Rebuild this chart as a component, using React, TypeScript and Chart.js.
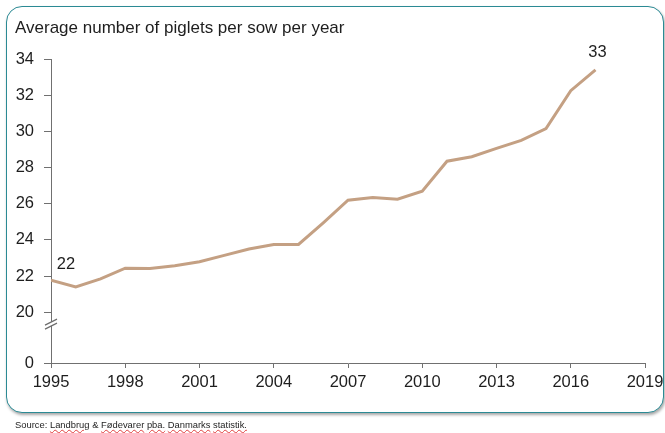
import React, { useEffect, useRef } from "react";
import { Chart, registerables } from "chart.js";

Chart.register(...registerables);

const years = [1995, 1996, 1997, 1998, 1999, 2000, 2001, 2002, 2003, 2004, 2005, 2006, 2007, 2008, 2009, 2010, 2011, 2012, 2013, 2014, 2015, 2016, 2017];
const piglets = [21.78, 21.4, 21.85, 22.44, 22.42, 22.58, 22.8, 23.15, 23.5, 23.75, 23.75, 24.95, 26.2, 26.35, 26.25, 26.7, 28.35, 28.6, 29.06, 29.5, 30.15, 32.25, 33.4];
const yTickValues = [20, 22, 24, 26, 28, 30, 32, 34];
const yBreakMin = 17.2;
const yBreakLabel = "0";
const xTickStep = 3;
const titleText = "Average number of piglets per sow per year";
const sourceWords = ["Landbrug", "&", "Fødevarer", "pba.", "Danmarks", "statistik."];

const FONT = '"Liberation Sans", Arial, sans-serif';

const labelPlugin = {
  id: "endLabels",
  afterDatasetsDraw(chart: any) {
    const meta = chart.getDatasetMeta(0);
    const ctx = chart.ctx;
    const pts = meta.data;
    const first = pts[0];
    const last = pts[pts.length - 1];
    ctx.save();
    ctx.font = "16.5px " + FONT;
    ctx.fillStyle = "#1e1e1e";
    ctx.textAlign = "center";
    ctx.textBaseline = "middle";
    ctx.fillText(String(Math.round(piglets[0])), first.x + 15, first.y - 16);
    ctx.fillText(String(Math.round(piglets[piglets.length - 1])), last.x + 2, last.y - 17);
    ctx.restore();
  },
};

const breakPlugin = {
  id: "axisBreak",
  afterDraw(chart: any) {
    const y = chart.scales.y;
    const ctx = chart.ctx;
    const x0 = chart.chartArea.left;
    const yc = y.getPixelForValue(19.35);
    ctx.save();
    ctx.fillStyle = "#ffffff";
    ctx.beginPath();
    ctx.moveTo(x0 - 6, yc + 1);
    ctx.lineTo(x0 + 6, yc - 5);
    ctx.lineTo(x0 + 6, yc - 1);
    ctx.lineTo(x0 - 6, yc + 5);
    ctx.closePath();
    ctx.fill();
    ctx.strokeStyle = "#6e6e6e";
    ctx.lineWidth = 1.2;
    ctx.beginPath();
    ctx.moveTo(x0 - 6, yc + 1);
    ctx.lineTo(x0 + 6, yc - 5);
    ctx.moveTo(x0 - 6, yc + 5);
    ctx.lineTo(x0 + 6, yc - 1);
    ctx.stroke();
    ctx.restore();
  },
};

export default function App() {
  const ref = useRef<HTMLCanvasElement>(null);

  useEffect(() => {
    if (!ref.current) return;
    const chart = new Chart(ref.current, {
      type: "line",
      data: {
        datasets: [
          {
            data: years.map((yr, i) => ({ x: yr, y: piglets[i] })),
            borderColor: "#c4a083",
            borderWidth: 3,
            pointRadius: 0,
            tension: 0,
            fill: false,
          },
        ],
      },
      options: {
        animation: false,
        responsive: false,
        devicePixelRatio: 1,
        layout: { padding: { top: 59, right: 20, left: 0, bottom: 0 } },
        plugins: { legend: { display: false }, tooltip: { enabled: false }, title: { display: false } },
        scales: {
          x: {
            type: "linear",
            min: 1995,
            max: 2019,
            afterFit: (s: any) => {
              s.height = 70;
              s.paddingRight = 0;
              s.paddingLeft = 0;
            },
            ticks: {
              stepSize: xTickStep,
              callback: (v: any) => String(v),
              color: "#1e1e1e",
              font: { family: FONT, size: 16.5 },
              padding: 5,
              maxRotation: 0,
            },
            grid: { drawOnChartArea: false, drawTicks: true, tickLength: 5, color: "#707070" },
            border: { color: "#707070", width: 1 },
          },
          y: {
            type: "linear",
            min: yBreakMin,
            max: 34,
            afterFit: (s: any) => {
              s.width = 51;
              s.paddingTop = 0;
              s.paddingBottom = 0;
            },
            afterBuildTicks: (s: any) => {
              s.ticks = [yBreakMin, ...yTickValues].map((v) => ({ value: v }));
            },
            ticks: {
              callback: (v: any) => (v === yBreakMin ? yBreakLabel : String(v)),
              color: "#1e1e1e",
              font: { family: FONT, size: 16.5 },
              padding: 10,
            },
            grid: { drawOnChartArea: false, drawTicks: true, tickLength: 7, color: "#707070" },
            border: { color: "#707070", width: 1 },
          },
        },
      },
      plugins: [labelPlugin, breakPlugin],
    });
    return () => chart.destroy();
  }, []);

  return (
    <div style={{ position: "fixed", left: 0, top: 0, width: 665, height: 433, background: "#fff", overflow: "hidden" }}>
      <div
        style={{
          position: "absolute",
          left: 6,
          top: 6,
          width: 656,
          height: 405,
          border: "1.5px solid #2b8a94",
          borderRadius: 16,
          boxShadow: "1px 2px 3px rgba(0,0,0,0.35)",
          background: "#fff",
        }}
      />
      <canvas ref={ref} width={665} height={433} style={{ position: "absolute", left: 0, top: 0 }} />
      <div
        style={{
          position: "absolute",
          left: 15,
          top: 18,
          fontFamily: FONT,
          fontSize: 17,
          color: "#1e1e1e",
          whiteSpace: "nowrap",
          lineHeight: "20px",
        }}
      >
        {titleText}
      </div>
      <div
        style={{
          position: "absolute",
          left: 15,
          top: 418,
          fontFamily: FONT,
          fontSize: 9.4,
          color: "#1e1e1e",
          whiteSpace: "nowrap",
          lineHeight: "14px",
        }}
      >
        Source:{" "}
        {sourceWords.map((w, i) => (
          <React.Fragment key={i}>
            <span style={w === "&" ? {} : { textDecoration: "underline wavy #e04040", textDecorationThickness: 1 }}>{w}</span>
            {i < sourceWords.length - 1 ? " " : ""}
          </React.Fragment>
        ))}
      </div>
    </div>
  );
}
